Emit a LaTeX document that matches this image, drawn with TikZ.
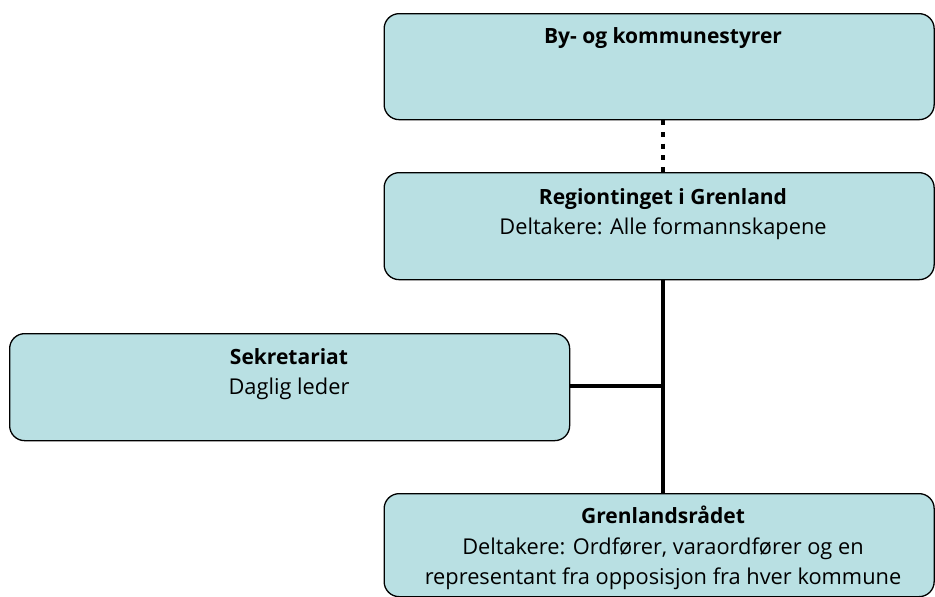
\documentclass[tikz,border=0pt]{standalone}
\usepackage{fontspec}
\setmainfont{Open Sans}
\definecolor{boxfill}{RGB}{185,224,227}
\begin{document}
\begin{tikzpicture}[x=1pt,y=-1pt,
  orgbox/.style={draw=black,line width=1.3pt,fill=boxfill,rounded corners=15pt,anchor=north west,inner sep=0pt},
  titletext/.style={anchor=base,inner sep=0pt,font=\fontsize{21}{30}\selectfont\bfseries},
  bodytext/.style={anchor=base,inner sep=0pt,font=\fontsize{21.8}{30}\selectfont},
  conn/.style={line width=4.7pt}]
\useasboundingbox (0,0) rectangle (935,597);
\node[orgbox,minimum width=550pt,minimum height=106pt] (by) at (383.5,13) {};
\node[orgbox,minimum width=550pt,minimum height=107pt] (reg) at (383.5,172) {};
\node[orgbox,minimum width=560pt,minimum height=107pt] (sek) at (9,333) {};
\node[orgbox,minimum width=550pt,minimum height=103pt] (gr) at (383.5,493) {};
\node[titletext] (byt) at (663,43) {By- og kommunestyrer};
\node[titletext] (regt) at (663,204) {Regiontinget i Grenland};
\node[bodytext] (regb) at (663,234) {Deltakere: Alle formannskapene};
\node[titletext] (sekt) at (289,364) {Sekretariat};
\node[bodytext] (sekb) at (289,394) {Daglig leder};
\node[titletext] (grt) at (663,523) {Grenlandsrådet};
\node[bodytext] (grb1) at (663,554) {Deltakere: Ordfører, varaordfører og en};
\node[bodytext] (grb2) at (663,584) {representant fra opposisjon fra hver kommune};
\coordinate (j) at (663,386);
\draw[conn,dash pattern=on 5pt off 6.7pt] (by.south -| j) -- (reg.north -| j);
\draw[conn] (reg.south -| j) -- (gr.north -| j);
\draw[conn] (sek.east |- j) -- (j);
\end{tikzpicture}
\end{document}
